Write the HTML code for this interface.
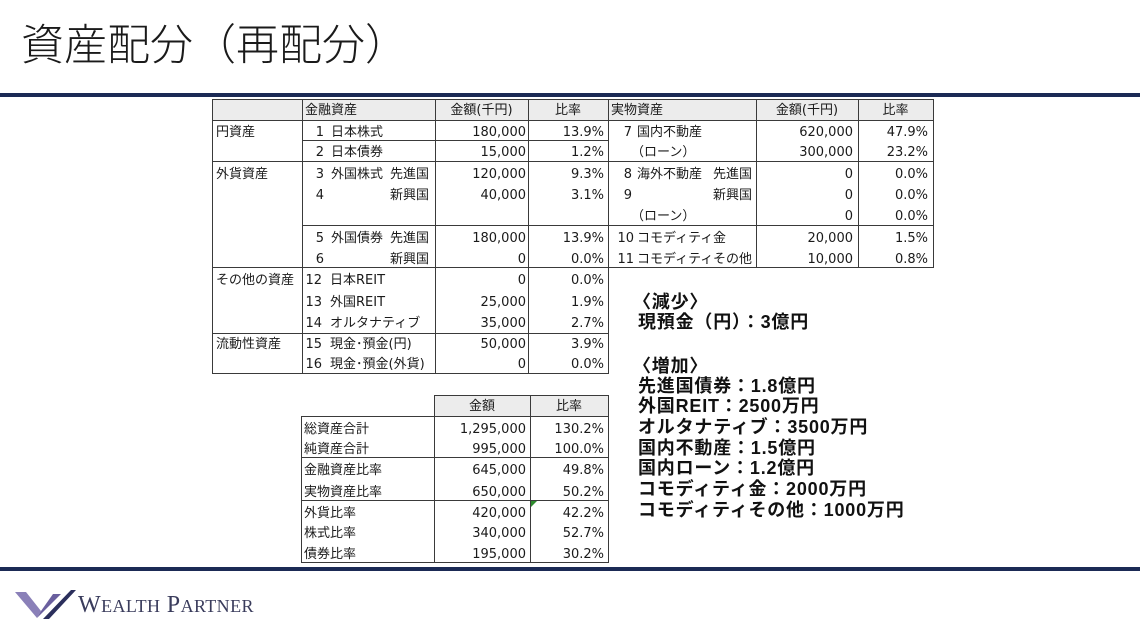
<!DOCTYPE html>
<html><head><meta charset="utf-8">
<style>
html,body{margin:0;padding:0;background:#fff;}
body{position:relative;width:1140px;height:641px;overflow:hidden;}
.t{position:absolute;height:20px;line-height:20px;margin-top:2px;white-space:nowrap;font-family:"DejaVu Sans","Noto Sans CJK JP",sans-serif;font-size:13px;color:#1a1a1a;}
.c{text-align:center;}
.r{text-align:right;}
.h{position:absolute;height:1px;background:#3a3a3a;}
.v{position:absolute;width:1px;background:#3a3a3a;}
.g{position:absolute;background:#ececec;}
.b{position:absolute;height:21px;line-height:21px;white-space:nowrap;font-family:"Liberation Sans","Noto Sans CJK JP",sans-serif;font-size:18px;font-weight:bold;color:#111;letter-spacing:0.8px;}
</style></head><body>

<!-- Title -->
<div style="position:absolute;left:21px;top:25px;height:43px;line-height:43px;font-family:'Liberation Sans','Noto Sans CJK JP',sans-serif;font-size:43px;font-weight:300;color:#1a1a1a;white-space:nowrap;">資産配分（再配分）</div>
<div style="position:absolute;left:0;top:93px;width:1140px;height:4px;background:#1b2a55;"></div>

<!-- header fills -->
<div class="g" style="left:212px;top:99px;width:721px;height:21px;"></div>
<div class="g" style="left:434px;top:395px;width:174px;height:21px;"></div>

<!-- main table lines -->
<div class="h" style="left:212px;top:99px;width:722px;"></div>
<div class="h" style="left:212px;top:120px;width:722px;"></div>
<div class="h" style="left:302px;top:140px;width:306px;"></div>
<div class="h" style="left:212px;top:161px;width:722px;"></div>
<div class="h" style="left:302px;top:225px;width:632px;"></div>
<div class="h" style="left:212px;top:267px;width:722px;"></div>
<div class="h" style="left:212px;top:333px;width:396px;"></div>
<div class="h" style="left:212px;top:373px;width:397px;"></div>
<div class="v" style="left:212px;top:99px;height:275px;"></div>
<div class="v" style="left:302px;top:99px;height:275px;"></div>
<div class="v" style="left:435px;top:99px;height:275px;"></div>
<div class="v" style="left:528px;top:99px;height:275px;"></div>
<div class="v" style="left:608px;top:99px;height:275px;"></div>
<div class="v" style="left:756px;top:99px;height:169px;"></div>
<div class="v" style="left:858px;top:99px;height:169px;"></div>
<div class="v" style="left:933px;top:99px;height:169px;"></div>

<!-- header text -->
<div class="t" style="left:305px;top:99px;">金融資産</div>
<div class="t c" style="left:435px;top:99px;width:93px;">金額(千円)</div>
<div class="t c" style="left:528px;top:99px;width:80px;">比率</div>
<div class="t" style="left:611px;top:99px;">実物資産</div>
<div class="t c" style="left:756px;top:99px;width:102px;">金額(千円)</div>
<div class="t c" style="left:858px;top:99px;width:75px;">比率</div>

<!-- left table rows -->
<div class="t" style="left:216px;top:121px;">円資産</div>
<div class="t r" style="right:816px;top:121px;">1</div>
<div class="t" style="left:331px;top:121px;">日本株式</div>
<div class="t r" style="right:614px;top:121px;">180,000</div>
<div class="t r" style="right:536px;top:121px;">13.9%</div>

<div class="t r" style="right:816px;top:141px;">2</div>
<div class="t" style="left:331px;top:141px;">日本債券</div>
<div class="t r" style="right:614px;top:141px;">15,000</div>
<div class="t r" style="right:536px;top:141px;">1.2%</div>

<div class="t" style="left:216px;top:163px;">外貨資産</div>
<div class="t r" style="right:816px;top:163px;">3</div>
<div class="t" style="left:331px;top:163px;">外国株式</div>
<div class="t r" style="right:711px;top:163px;">先進国</div>
<div class="t r" style="right:614px;top:163px;">120,000</div>
<div class="t r" style="right:536px;top:163px;">9.3%</div>

<div class="t r" style="right:816px;top:184px;">4</div>
<div class="t r" style="right:711px;top:184px;">新興国</div>
<div class="t r" style="right:614px;top:184px;">40,000</div>
<div class="t r" style="right:536px;top:184px;">3.1%</div>

<div class="t r" style="right:816px;top:227px;">5</div>
<div class="t" style="left:331px;top:227px;">外国債券</div>
<div class="t r" style="right:711px;top:227px;">先進国</div>
<div class="t r" style="right:614px;top:227px;">180,000</div>
<div class="t r" style="right:536px;top:227px;">13.9%</div>

<div class="t r" style="right:816px;top:248px;">6</div>
<div class="t r" style="right:711px;top:248px;">新興国</div>
<div class="t r" style="right:614px;top:248px;">0</div>
<div class="t r" style="right:536px;top:248px;">0.0%</div>

<div class="t" style="left:216px;top:269px;">その他の資産</div>
<div class="t r" style="right:818px;top:269px;">12</div>
<div class="t" style="left:330px;top:269px;">日本REIT</div>
<div class="t r" style="right:614px;top:269px;">0</div>
<div class="t r" style="right:536px;top:269px;">0.0%</div>

<div class="t r" style="right:818px;top:291px;">13</div>
<div class="t" style="left:330px;top:291px;">外国REIT</div>
<div class="t r" style="right:614px;top:291px;">25,000</div>
<div class="t r" style="right:536px;top:291px;">1.9%</div>

<div class="t r" style="right:818px;top:312px;">14</div>
<div class="t" style="left:330px;top:312px;">オルタナティブ</div>
<div class="t r" style="right:614px;top:312px;">35,000</div>
<div class="t r" style="right:536px;top:312px;">2.7%</div>

<div class="t" style="left:216px;top:333px;">流動性資産</div>
<div class="t r" style="right:818px;top:333px;">15</div>
<div class="t" style="left:330px;top:333px;">現金･預金(円)</div>
<div class="t r" style="right:614px;top:333px;">50,000</div>
<div class="t r" style="right:536px;top:333px;">3.9%</div>

<div class="t r" style="right:818px;top:353px;">16</div>
<div class="t" style="left:330px;top:353px;">現金･預金(外貨)</div>
<div class="t r" style="right:614px;top:353px;">0</div>
<div class="t r" style="right:536px;top:353px;">0.0%</div>

<!-- right table rows -->
<div class="t r" style="right:508px;top:121px;">7</div>
<div class="t" style="left:637px;top:121px;">国内不動産</div>
<div class="t r" style="right:287px;top:121px;">620,000</div>
<div class="t r" style="right:212px;top:121px;">47.9%</div>

<div class="t" style="left:631px;top:141px;">（ローン）</div>
<div class="t r" style="right:287px;top:141px;">300,000</div>
<div class="t r" style="right:212px;top:141px;">23.2%</div>

<div class="t r" style="right:508px;top:163px;">8</div>
<div class="t" style="left:637px;top:163px;">海外不動産</div>
<div class="t r" style="right:388px;top:163px;">先進国</div>
<div class="t r" style="right:287px;top:163px;">0</div>
<div class="t r" style="right:212px;top:163px;">0.0%</div>

<div class="t r" style="right:508px;top:184px;">9</div>
<div class="t r" style="right:388px;top:184px;">新興国</div>
<div class="t r" style="right:287px;top:184px;">0</div>
<div class="t r" style="right:212px;top:184px;">0.0%</div>

<div class="t" style="left:631px;top:205px;">（ローン）</div>
<div class="t r" style="right:287px;top:205px;">0</div>
<div class="t r" style="right:212px;top:205px;">0.0%</div>

<div class="t r" style="right:506px;top:227px;">10</div>
<div class="t" style="left:637px;top:227px;">コモディティ</div>
<div class="t" style="left:713px;top:227px;">金</div>
<div class="t r" style="right:287px;top:227px;">20,000</div>
<div class="t r" style="right:212px;top:227px;">1.5%</div>

<div class="t r" style="right:506px;top:248px;">11</div>
<div class="t" style="left:637px;top:248px;">コモディティ</div>
<div class="t" style="left:713px;top:248px;">その他</div>
<div class="t r" style="right:287px;top:248px;">10,000</div>
<div class="t r" style="right:212px;top:248px;">0.8%</div>

<!-- bottom summary table -->
<div class="h" style="left:434px;top:395px;width:174px;"></div>
<div class="h" style="left:301px;top:416px;width:307px;"></div>
<div class="h" style="left:301px;top:457px;width:307px;"></div>
<div class="h" style="left:301px;top:500px;width:307px;"></div>
<div class="h" style="left:301px;top:562px;width:308px;"></div>
<div class="v" style="left:301px;top:416px;height:146px;"></div>
<div class="v" style="left:434px;top:395px;height:167px;"></div>
<div class="v" style="left:530px;top:395px;height:167px;"></div>
<div class="v" style="left:608px;top:395px;height:167px;"></div>

<div class="t c" style="left:434px;top:395px;width:96px;">金額</div>
<div class="t c" style="left:530px;top:395px;width:78px;">比率</div>

<div class="t" style="left:304px;top:418px;">総資産合計</div>
<div class="t r" style="right:614px;top:418px;">1,295,000</div>
<div class="t r" style="right:536px;top:418px;">130.2%</div>

<div class="t" style="left:304px;top:438px;">純資産合計</div>
<div class="t r" style="right:614px;top:438px;">995,000</div>
<div class="t r" style="right:536px;top:438px;">100.0%</div>

<div class="t" style="left:304px;top:459px;">金融資産比率</div>
<div class="t r" style="right:614px;top:459px;">645,000</div>
<div class="t r" style="right:536px;top:459px;">49.8%</div>

<div class="t" style="left:304px;top:481px;">実物資産比率</div>
<div class="t r" style="right:614px;top:481px;">650,000</div>
<div class="t r" style="right:536px;top:481px;">50.2%</div>

<div class="t" style="left:304px;top:502px;">外貨比率</div>
<div class="t r" style="right:614px;top:502px;">420,000</div>
<div class="t r" style="right:536px;top:502px;">42.2%</div>

<div class="t" style="left:304px;top:522px;">株式比率</div>
<div class="t r" style="right:614px;top:522px;">340,000</div>
<div class="t r" style="right:536px;top:522px;">52.7%</div>

<div class="t" style="left:304px;top:543px;">債券比率</div>
<div class="t r" style="right:614px;top:543px;">195,000</div>
<div class="t r" style="right:536px;top:543px;">30.2%</div>

<div style="position:absolute;left:531px;top:501px;width:0;height:0;border-top:6px solid #2e8b2e;border-right:6px solid transparent;"></div>

<!-- right notes -->
<div class="b" style="left:633px;top:292px;">〈減少〉</div>
<div class="b" style="left:638px;top:312px;">現預金（円）：3億円</div>
<div class="b" style="left:633px;top:356px;">〈増加〉</div>
<div class="b" style="left:638px;top:376px;">先進国債券：1.8億円</div>
<div class="b" style="left:638px;top:396px;">外国REIT：2500万円</div>
<div class="b" style="left:638px;top:417px;">オルタナティブ：3500万円</div>
<div class="b" style="left:638px;top:438px;">国内不動産：1.5億円</div>
<div class="b" style="left:638px;top:458px;">国内ローン：1.2億円</div>
<div class="b" style="left:638px;top:479px;">コモディティ金：2000万円</div>
<div class="b" style="left:638px;top:500px;">コモディティその他：1000万円</div>

<!-- footer -->
<div style="position:absolute;left:0;top:567px;width:1140px;height:4px;background:#1b2a55;"></div>
<svg style="position:absolute;left:0;top:0;" width="1140" height="641">
  <polygon points="15,592 26,592 41,611 37,618" fill="#8a80b8"/>
  <polygon points="37,618 41,611 53,594 61,594" fill="#6a5f9e"/>
  <polygon points="43,619 71,590 76,590 49,619" fill="#2b2f5c"/>
</svg>
<div style="position:absolute;left:78px;top:593px;height:24px;line-height:24px;font-family:'Liberation Serif',serif;font-size:24px;color:#3a3c5c;white-space:nowrap;letter-spacing:0.4px;">W<span style="font-size:18px;">EALTH</span> P<span style="font-size:18px;">ARTNER</span></div>

</body></html>
